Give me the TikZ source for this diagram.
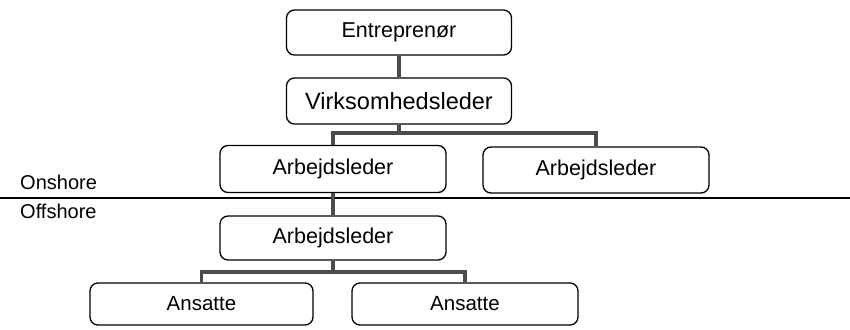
\documentclass[tikz,border=0pt]{standalone}
\usepackage{fontspec}
\setmainfont{Liberation Sans}
\usepackage{xcolor}

\begin{document}
\begin{tikzpicture}[x=1pt,y=-1pt,
    rolle/.style={draw, line width=1.3pt, rounded corners=8pt,
        minimum width=225pt, minimum height=45pt, inner sep=0pt,
        font=\fontsize{21.5}{24}\selectfont},
    linje/.style={line width=3.2pt, color=black!70},
    sted/.style={anchor=west, inner sep=0pt, font=\fontsize{20}{22}\selectfont}
]
            \useasboundingbox (0,0) rectangle (850,329);
            % onshore / offshore
            \draw[line width=1.3pt] (0,198) -- (850,198);
            \node[sted] (on) at (20,182) {Onshore};
            \node[sted] (off) at (20,211) {Offshore};
            % kasser
            \node[rolle] (entr) at (399,32.5) {Entreprenør};
            \node[rolle, minimum height=46pt, font=\fontsize{23.5}{26}\selectfont] (virk) at (399,101) {Virksomhedsleder};
            \node[rolle, minimum width=226pt, minimum height=47pt] (arbL) at (333,169) {Arbejdsleder};
            \node[rolle, minimum width=226pt, minimum height=46pt] (arbR) at (596,170) {Arbejdsleder};
            \node[rolle, minimum width=226pt, minimum height=44pt] (arbM) at (333,238) {Arbejdsleder};
            \node[rolle, minimum width=223pt, minimum height=42pt, font=\fontsize{20.5}{23}\selectfont] (ansL) at (201.5,304) {Ansatte};
            \node[rolle, minimum width=226pt, minimum height=42pt, font=\fontsize{20.5}{23}\selectfont] (ansR) at (465,304) {Ansatte};
            % forbindelser
            \coordinate (bar1) at (0,133);
            \coordinate (bar2) at (0,272);
            \draw[linje] (entr) -- (virk);
            \draw[linje] (virk.south) -- (virk.south |- bar1) -| (arbL.north);
            \draw[linje] (virk.south) -- (virk.south |- bar1) -| (arbR.north);
            \draw[linje] (arbL) -- (arbM);
            \draw[linje] (arbM.south) -- (arbM.south |- bar2) -| (ansL.north);
            \draw[linje] (arbM.south) -- (arbM.south |- bar2) -| (ansR.north);
\end{tikzpicture}
\end{document}
